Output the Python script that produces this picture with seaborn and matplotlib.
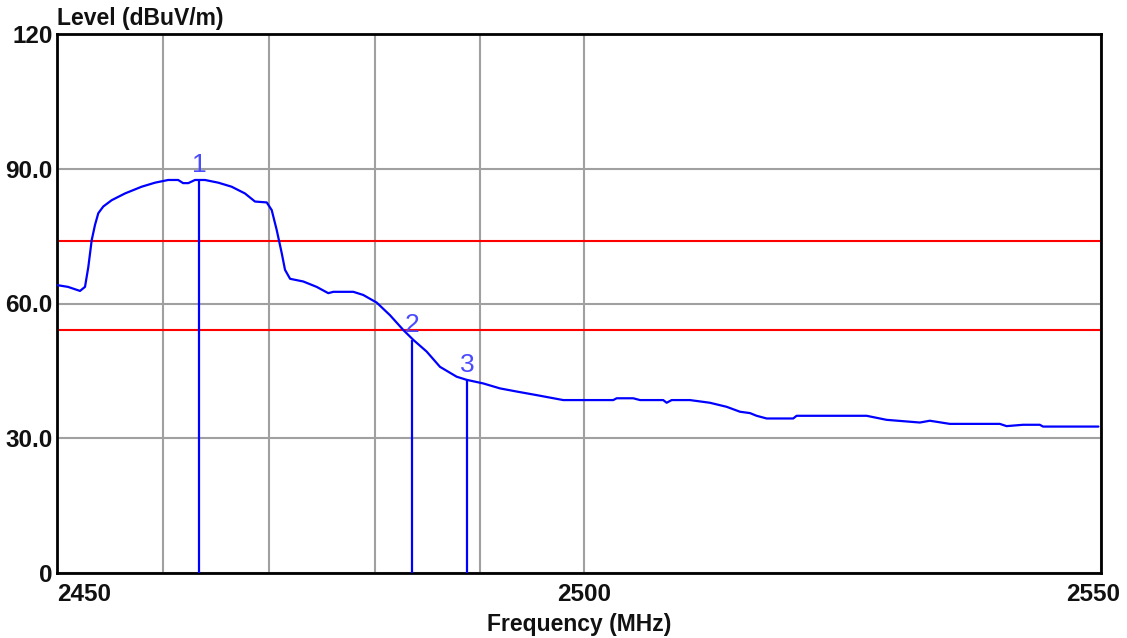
import matplotlib
matplotlib.use("Agg")
import matplotlib.pyplot as plt
import matplotlib.transforms as mtransforms
from matplotlib.ticker import NullLocator, NullFormatter
import seaborn as sns
import pandas as pd

# ---------------- data ----------------
freq_mhz = [2450.00, 2451.03, 2452.16, 2452.63, 2452.94, 2453.26, 2453.57, 2453.88,
            2454.35, 2455.14, 2456.39, 2457.96, 2459.22, 2460.46, 2461.40, 2461.87,
            2462.36, 2462.99, 2463.93, 2465.19, 2466.45, 2467.71, 2468.66, 2469.77,
            2470.24, 2470.71, 2471.19, 2471.50, 2471.98, 2473.23, 2474.50, 2475.60,
            2476.08, 2477.98, 2478.92, 2480.20, 2481.46, 2482.73, 2483.68, 2484.95,
            2486.22, 2487.81, 2488.77, 2490.35, 2491.94, 2493.54, 2495.45, 2497.99,
            2502.78, 2503.11, 2504.70, 2505.35, 2507.58, 2507.91, 2508.39, 2510.15,
            2512.07, 2513.68, 2514.97, 2515.93, 2516.57, 2517.54, 2520.10, 2520.43,
            2527.20, 2529.13, 2532.36, 2533.33, 2535.27, 2540.13, 2540.79, 2542.40,
            2544.03, 2544.34, 2549.75]
level_dbuv = [64.1, 63.7, 62.8, 63.7, 68.1, 74.1, 77.5, 80.1,
              81.6, 83.0, 84.5, 86.0, 86.9, 87.5, 87.5, 86.8,
              86.8, 87.5, 87.5, 86.9, 86.0, 84.5, 82.7, 82.5,
              80.8, 76.4, 71.2, 67.5, 65.5, 64.9, 63.7, 62.3,
              62.6, 62.6, 61.9, 60.2, 57.4, 54.1, 51.9, 49.3,
              45.9, 43.7, 43.0, 42.2, 41.1, 40.4, 39.6, 38.5,
              38.5, 38.9, 38.9, 38.5, 38.5, 37.9, 38.5, 38.5,
              37.9, 37.0, 35.9, 35.6, 35.0, 34.4, 34.4, 35.0,
              35.0, 34.1, 33.5, 33.9, 33.2, 33.2, 32.7, 33.0,
              33.0, 32.6, 32.6]

marker_freq = [2463.4, 2483.6, 2488.8]
marker_level = [87.5, 51.9, 43.0]
marker_label = ["1", "2", "3"]

limit_levels = [74, 54]

x_ticks = [2450, 2500, 2550]
x_tick_labels = ["2450", "2500", "2550"]
x_grid = [2460, 2470, 2480, 2490, 2500]
y_ticks = [0, 30, 60, 90, 120]
y_tick_labels = ["0", "30.0", "60.0", "90.0", "120"]

# ---------------- plot ----------------
sns.set_style("white")
plt.rcParams["font.family"] = ["Liberation Sans", "DejaVu Sans"]

fig = plt.figure(figsize=(11.27, 6.38), dpi=100)
ax = fig.add_axes([57 / 1127, 1 - 573 / 638, (1101 - 57) / 1127, (573 - 34) / 638])

df = pd.DataFrame({"freq": freq_mhz, "level": level_dbuv})

ax.set_xscale("log")
ax.set_xlim(2450, 2550)
ax.set_ylim(0, 120)

grid_col = "#a0a0a0"
ax.xaxis.set_minor_locator(NullLocator())
ax.set_xticks(x_grid, minor=True)
ax.set_xticks(x_ticks)
ax.set_xticklabels(x_tick_labels)
ax.xaxis.set_minor_formatter(NullFormatter())
ax.set_yticks(y_ticks)
ax.set_yticklabels(y_tick_labels)
ax.grid(True, which="both", axis="x", color=grid_col, lw=1.5)
ax.grid(True, which="major", axis="y", color=grid_col, lw=1.5)
ax.set_axisbelow(True)

for lv in limit_levels:
    ax.axhline(lv, color="#ff0000", lw=1.5, zorder=2)

sns.lineplot(data=df, x="freq", y="level", ax=ax, color="#0000ff", lw=1.6,
             zorder=3, estimator=None, sort=False)

ax.vlines(marker_freq, 0, marker_level, color="#0000ff", lw=1.6, zorder=3)
for f, lv, lab in zip(marker_freq, marker_level, marker_label):
    ax.annotate(lab, (f, lv), xytext=(0, 2), textcoords="offset points",
                ha="center", va="bottom", color="#4a4aff", fontsize=19,
                zorder=4)

for s in ax.spines.values():
    s.set_color("black")
    s.set_linewidth(2)

ax.tick_params(axis="both", which="both", length=0)
ax.tick_params(axis="x", pad=7)
ax.tick_params(axis="y", pad=3)
for t in ax.get_xticklabels() + ax.get_yticklabels():
    t.set_fontsize(17.5)
    t.set_fontweight("bold")
    t.set_color("#111111")

xl = ax.get_xticklabels()
xl[0].set_ha("left")
xl[1].set_ha("center")
xl[2].set_ha("right")
xl[2].set_transform(xl[2].get_transform() +
                    mtransforms.ScaledTranslation(19 / 100, 0, fig.dpi_scale_trans))

ax.set_xlabel("Frequency (MHz)", fontsize=16.5, fontweight="bold", labelpad=5,
              color="#111111")
ax.set_ylabel("")
ax.text(0, 1.0, "Level (dBuV/m)",
        transform=ax.transAxes + mtransforms.ScaledTranslation(0, 4 / 100, fig.dpi_scale_trans),
        ha="left", va="bottom", fontsize=16.5, fontweight="bold", color="#111111")

fig.savefig("out.png", dpi=100)
